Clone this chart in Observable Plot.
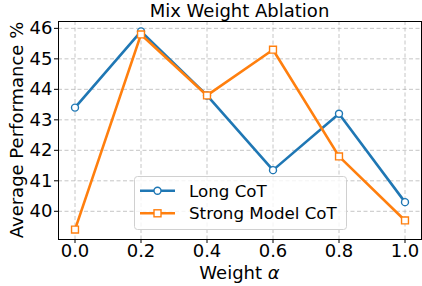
<!DOCTYPE html>
<html>
<head>
<meta charset="utf-8">
<script src="https://cdn.jsdelivr.net/npm/d3@7"></script>
<script src="https://cdn.jsdelivr.net/npm/@observablehq/plot@0.6"></script>
<style>
  html, body { margin: 0; padding: 0; background: #fff; }
  #chart { width: 422px; height: 286px; }
  svg { font-family: "DejaVu Sans", sans-serif; }
</style>
</head>
<body>
<div id="chart"></div>
<script>
const weights = [0.0, 0.2, 0.4, 0.6, 0.8, 1.0];
const longCoT = [43.4, 45.9, 43.8, 41.35, 43.2, 40.3];
const strongCoT = [39.4, 45.8, 43.8, 45.3, 41.8, 39.7];
const seriesNames = ["Long CoT", "Strong Model CoT"];
const seriesColors = ["#1f77b4", "#ff7f0e"];
const xTicks = [0.0, 0.2, 0.4, 0.6, 0.8, 1.0];
const yTicks = [40, 41, 42, 43, 44, 45, 46];
const titleText = "Mix Weight Ablation";
const yLabel = "Average Performance %";

const longData = weights.map((w, i) => ({w, v: longCoT[i]}));
const strongData = weights.map((w, i) => ({w, v: strongCoT[i]}));

const plot = Plot.plot({
  width: 422,
  height: 286,
  marginLeft: 58,
  marginRight: 1,
  marginTop: 21,
  marginBottom: 47,
  style: {fontFamily: "DejaVu Sans, sans-serif", background: "white", color: "black"},
  x: {domain: [-0.05, 1.05]},
  y: {domain: [39.075, 46.225]},
  marks: [
    Plot.gridX(xTicks, {stroke: "#b0b0b0", strokeOpacity: 0.8, strokeDasharray: "4,2.5", strokeWidth: 0.9}),
    Plot.gridY(yTicks, {stroke: "#b0b0b0", strokeOpacity: 0.8, strokeDasharray: "4,2.5", strokeWidth: 0.9}),
    Plot.axisX(xTicks, {tickFormat: d => d.toFixed(1), fontSize: 18, tickSize: 4, tickPadding: 1, label: null, stroke: "black"}),
    Plot.axisY(yTicks, {tickFormat: d => String(d), fontSize: 18, tickSize: 4, tickPadding: 2, label: null, stroke: "black"}),
    Plot.line(longData, {x: "w", y: "v", stroke: seriesColors[0], strokeWidth: 2.6}),
    Plot.line(strongData, {x: "w", y: "v", stroke: seriesColors[1], strokeWidth: 2.6}),
    Plot.dot(longData, {x: "w", y: "v", r: 3.5, symbol: "circle", fill: "white", stroke: seriesColors[0], strokeWidth: 1.4}),
    Plot.dot(strongData, {x: "w", y: "v", r: 3.9, symbol: "square", fill: "white", stroke: seriesColors[1], strokeWidth: 1.4}),
    Plot.frame({stroke: "black", strokeWidth: 1})
  ]
});

document.getElementById("chart").appendChild(plot);

const svg = d3.select(plot);
// Title
svg.append("text")
  .attr("x", 239.5).attr("y", 17)
  .attr("text-anchor", "middle")
  .attr("font-size", 18)
  .attr("fill", "black")
  .text(titleText);
// X label
const xl = svg.append("text")
  .attr("x", 239.5).attr("y", 279)
  .attr("text-anchor", "middle")
  .attr("font-size", 18)
  .attr("fill", "black");
xl.append("tspan").text("Weight ");
xl.append("tspan").attr("font-style", "italic").text("α");
// Y label
svg.append("text")
  .attr("transform", "translate(23,130) rotate(-90)")
  .attr("text-anchor", "middle")
  .attr("font-size", 18)
  .attr("fill", "black")
  .text(yLabel);

// Legend
const lg = svg.append("g");
lg.append("rect")
  .attr("x", 134.5).attr("y", 176.5).attr("width", 212).attr("height", 53)
  .attr("rx", 3).attr("fill", "white").attr("fill-opacity", 0.8)
  .attr("stroke", "#d0d0d0").attr("stroke-width", 1);
const rowY = [190.7, 213.3];
seriesNames.forEach((name, i) => {
  const y = rowY[i];
  lg.append("line").attr("x1", 140).attr("x2", 175).attr("y1", y).attr("y2", y)
    .attr("stroke", seriesColors[i]).attr("stroke-width", 2.6);
  if (i === 0) {
    lg.append("circle").attr("cx", 157.5).attr("cy", y).attr("r", 3.5)
      .attr("fill", "white").attr("stroke", seriesColors[i]).attr("stroke-width", 1.4);
  } else {
    lg.append("rect").attr("x", 157.5 - 3.5).attr("y", y - 3.5).attr("width", 7).attr("height", 7)
      .attr("fill", "white").attr("stroke", seriesColors[i]).attr("stroke-width", 1.4);
  }
  lg.append("text").attr("x", 189).attr("y", y).attr("dy", "0.36em")
    .attr("text-anchor", "start")
    .attr("font-size", 16.7).attr("fill", "black").text(name);
});
</script>
</body>
</html>
